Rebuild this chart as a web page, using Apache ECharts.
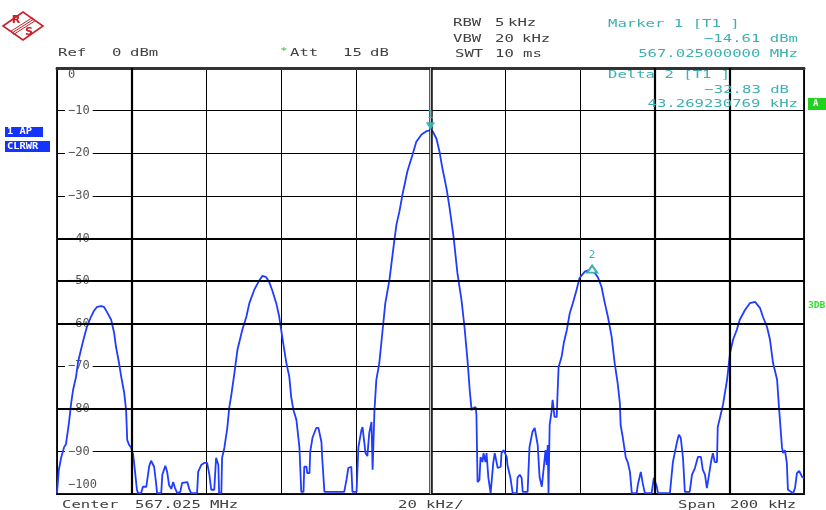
<!DOCTYPE html>
<html><head><meta charset="utf-8">
<script src="https://cdn.jsdelivr.net/npm/echarts@6/dist/echarts.min.js"></script>
<style>html,body{margin:0;padding:0;background:#fff}#c{width:826px;height:510px}</style>
</head><body><div id="c"></div>
<script>
// Trace: [frequency offset from center (kHz), level (dBm)]
const trace = [
[-100.0,-99.8],[-99.5,-94.3],[-98.9,-91.5],[-98.1,-89.0],[-97.6,-88.3],[-96.8,-83.3],[-96.2,-78.6],[-95.7,-75.6],[-94.9,-72.5],[-94.4,-69.2],
[-93.6,-66.2],[-92.8,-63.4],[-92.0,-60.8],[-90.9,-58.4],[-90.1,-57.0],[-89.3,-56.1],[-88.2,-55.9],[-87.4,-56.1],[-86.6,-57.3],[-85.5,-59.1],
[-84.7,-62.2],[-84.2,-65.5],[-83.4,-69.2],[-82.8,-72.5],[-82.0,-76.3],[-81.5,-80.3],[-81.2,-87.3],[-80.7,-88.5],[-80.2,-89.0],[-79.6,-90.8],
[-79.1,-94.8],[-78.6,-99.0],[-78.3,-99.8],[-77.5,-99.8],[-77.0,-98.3],[-76.1,-98.3],[-75.3,-93.4],[-74.8,-92.2],[-74.0,-93.6],[-73.5,-97.2],
[-73.2,-99.8],[-72.1,-99.8],[-71.8,-95.5],[-71.0,-93.4],[-70.5,-94.8],[-70.0,-97.9],[-69.4,-98.8],[-68.9,-97.2],[-68.4,-98.6],[-67.8,-99.8],
[-67.0,-99.5],[-66.5,-97.4],[-65.1,-97.2],[-64.6,-98.8],[-64.1,-99.8],[-62.5,-99.8],[-62.2,-94.8],[-61.4,-93.2],[-60.6,-92.7],[-59.8,-92.7],
[-59.2,-95.5],[-58.7,-99.0],[-57.9,-99.0],[-57.4,-91.5],[-56.8,-93.2],[-56.6,-99.8],[-56.0,-99.8],[-55.8,-91.5],[-55.2,-89.2],[-54.4,-84.5],
[-53.9,-79.8],[-53.4,-77.2],[-52.5,-71.6],[-51.7,-66.2],[-50.4,-61.5],[-49.3,-58.4],[-48.5,-55.2],[-47.2,-52.1],[-45.8,-49.8],[-45.0,-48.8],
[-44.0,-49.1],[-43.2,-50.2],[-42.4,-52.1],[-41.3,-55.2],[-40.5,-58.4],[-39.7,-63.1],[-38.6,-69.2],[-37.8,-72.5],[-37.3,-77.2],[-36.7,-80.3],
[-35.9,-82.6],[-35.1,-89.0],[-34.6,-99.5],[-34.0,-99.5],[-33.8,-93.6],[-33.2,-93.6],[-33.0,-95.1],[-32.4,-95.1],[-32.2,-90.1],[-31.6,-86.8],
[-30.6,-84.5],[-30.0,-84.5],[-29.2,-87.8],[-29.0,-91.5],[-28.4,-99.5],[-23.1,-99.5],[-22.5,-96.7],[-22.0,-93.9],[-21.2,-93.6],[-20.9,-99.5],
[-19.8,-99.5],[-19.3,-89.0],[-18.5,-85.0],[-18.2,-84.3],[-17.4,-90.4],[-16.9,-91.1],[-16.4,-85.7],[-15.8,-83.1],[-15.5,-94.3],[-15.0,-80.3],
[-14.5,-73.2],[-13.7,-69.2],[-12.9,-62.2],[-12.1,-55.2],[-11.0,-49.8],[-9.7,-40.6],[-9.1,-36.7],[-8.3,-33.6],[-7.5,-29.7],[-6.2,-24.3],
[-4.8,-20.3],[-3.8,-17.3],[-2.4,-15.6],[-1.0,-14.8],[0,-14.61],[0.6,-14.9],[1.6,-16.6],[2.4,-19.6],[3.2,-23.6],[4.3,-28.3],
[5.1,-32.8],[6.2,-39.8],[7.2,-48.1],[8.3,-54.5],[9.1,-60.8],[9.9,-68.5],[10.5,-75.6],[11.0,-80.3],[11.5,-79.8],[12.1,-79.6],
[12.3,-81.4],[12.6,-97.2],[13.1,-96.7],[13.4,-91.3],[13.9,-92.5],[14.2,-90.4],[14.7,-92.5],[15.0,-90.4],[15.5,-96.2],[16.1,-99.8],
[16.6,-99.8],[16.8,-92.7],[17.2,-90.4],[17.7,-90.8],[18.0,-93.9],[18.8,-93.6],[19.0,-90.4],[19.6,-89.7],[20.4,-91.3],[20.6,-93.2],
[21.4,-96.2],[22.0,-99.8],[23.1,-99.8],[23.3,-96.2],[23.9,-95.5],[24.4,-96.2],[24.7,-99.5],[26.0,-99.5],[26.5,-89.0],[27.3,-85.4],
[27.9,-84.5],[28.7,-88.5],[29.2,-96.0],[29.8,-98.3],[30.3,-97.9],[30.8,-89.7],[31.1,-93.2],[31.4,-88.5],[31.6,-99.8],[31.9,-83.8],
[32.4,-80.7],[32.7,-77.9],[33.2,-81.9],[33.8,-81.9],[34.0,-76.7],[34.3,-70.2],[35.1,-67.8],[35.7,-64.5],[36.5,-61.5],[37.3,-57.5],
[38.1,-55.2],[39.1,-52.1],[39.9,-49.3],[41.3,-47.8],[42.6,-47.4],[44.0,-48.1],[44.8,-49.1],[45.8,-51.4],[46.6,-54.9],[47.5,-58.4],
[48.5,-63.1],[49.3,-69.2],[50.1,-73.9],[50.7,-78.6],[50.9,-83.8],[51.5,-86.8],[52.3,-91.5],[52.8,-92.5],[53.4,-94.8],[53.9,-99.8],
[55.2,-99.8],[55.5,-97.9],[56.3,-94.8],[56.8,-97.4],[57.4,-99.8],[59.2,-99.8],[59.8,-96.2],[60.6,-98.3],[60.9,-99.8],[64.1,-99.8],
[64.9,-92.5],[66.0,-87.8],[66.5,-86.1],[67.0,-86.8],[67.6,-91.5],[68.1,-99.5],[69.4,-99.5],[70.0,-95.5],[70.8,-93.9],[71.6,-91.3],
[72.4,-91.3],[72.9,-94.3],[73.5,-95.5],[74.0,-98.6],[74.5,-98.6],[75.1,-92.5],[75.6,-90.4],[76.1,-92.5],[76.7,-92.5],[76.9,-84.3],
[77.5,-82.1],[78.3,-79.1],[79.4,-73.2],[80.2,-66.9],[81.0,-63.8],[82.0,-61.5],[82.8,-59.1],[84.2,-56.8],[85.5,-55.2],[86.9,-54.9],
[88.2,-56.3],[89.0,-58.4],[90.1,-60.8],[90.9,-63.8],[91.7,-69.2],[92.8,-73.2],[93.3,-79.6],[94.1,-89.0],[94.4,-90.4],[94.9,-89.7],
[95.4,-92.7],[95.7,-99.0],[97.1,-99.8],[97.6,-98.6],[98.1,-95.1],[98.7,-94.6],[99.5,-96.0],[100.0,-96.2]
];
const markerFreq = [0, 43.27];
const markerLevel = [-14.61, -47.44];
const markerNames = ['1', '2'];
const boldGridY = [-40, -50, -60, -80];
const boldGridX = [-80, 60, 80];

const MONO = '"DejaVu Sans Mono"';
const GREY = '#404040';
const TEAL = '#3fb0b0';
const SX = 1.42;
function T(text, x, y, fill, align, size, weight) {
  return { type: 'text', x: x, y: y, scaleX: SX, z: 20,
    style: { text: text, fill: fill || GREY, font: (weight || 'normal') + ' ' + (size || 11) + 'px ' + MONO,
      textAlign: align || 'left', textVerticalAlign: 'middle', verticalAlign: 'middle' } };
}

const chart = echarts.init(document.getElementById('c'), null, { renderer: 'canvas' });
chart.setOption({
  animation: false,
  backgroundColor: '#fff',
  grid: { left: 57, right: 22, top: 68, bottom: 16, show: true, borderColor: '#1a1a1a', borderWidth: 2, backgroundColor: 'transparent' },
  xAxis: {
    type: 'value', min: -100, max: 100, interval: 20,
    axisLabel: { show: false }, axisTick: { show: false },
    axisLine: { show: true, lineStyle: { color: '#333', width: 3 } },
    splitLine: { show: true, lineStyle: { color: '#000', width: 1 } }
  },
  yAxis: [{
    type: 'value', min: -100, max: 0, interval: 10,
    axisLabel: { show: false }, axisTick: { show: false },
    axisLine: { show: true, lineStyle: { color: '#111', width: 2 } },
    splitLine: { show: true, lineStyle: { color: '#000', width: 1 } }
  }, {
    type: 'value', min: -100, max: 0, interval: 10, position: 'left', z: 1.5,
    axisLine: { show: false }, axisTick: { show: false }, splitLine: { show: false },
    axisLabel: {
      inside: true, margin: 8, color: '#555', fontFamily: MONO, fontSize: 12,
      formatter: function (v) {
        const s = String(v).replace('-', '\u2212');
        if (v === 0) return '{t|' + s + '}';
        if (v === -100) return '{b|' + s + '}';
        return '{n|' + s + '}';
      },
      rich: {
        n: { backgroundColor: '#fff', padding: [1, 3, 1, 3], color: '#555', fontFamily: MONO, fontSize: 12 },
        t: { padding: [14, 3, 0, 3], color: '#555', fontFamily: MONO, fontSize: 12 },
        b: { padding: [0, 3, 18, 3], color: '#555', fontFamily: MONO, fontSize: 12 }
      }
    }
  }],
  series: [{
    type: 'line', data: [], z: 1, silent: true,
    markLine: {
      silent: true, symbol: 'none', label: { show: false }, animation: false,
      lineStyle: { color: '#000', width: 2.2, type: 'solid' },
      data: boldGridY.map(v => ({ yAxis: v })).concat(boldGridX.map(v => ({ xAxis: v })))
    }
  }, {
    type: 'line', data: [], z: 1.1, silent: true,
    markLine: {
      silent: true, symbol: 'none', label: { show: false }, animation: false,
      lineStyle: { color: '#111', width: 3.5, type: 'solid' },
      data: [{ xAxis: 0 }]
    }
  }, {
    type: 'line', data: [], z: 1.2, silent: true,
    markLine: {
      silent: true, symbol: 'none', label: { show: false }, animation: false,
      lineStyle: { color: '#c8c8c8', width: 1.2, type: 'solid' },
      data: [{ xAxis: 0 }]
    }
  }, {
    type: 'line', data: trace, z: 3, showSymbol: false, symbol: 'none',
    lineStyle: { color: '#1f3cff', width: 1.8 },
    markPoint: {
      animation: false,
      data: markerFreq.map((f, i) => ({
        coord: [f, markerLevel[i]],
        symbol: i === 0 ? 'triangle' : 'emptyTriangle',
        symbolRotate: i === 0 ? 180 : 0,
        symbolSize: i === 0 ? [9, 8] : [10, 7],
        symbolOffset: i === 0 ? [0, -4] : [0, -1],
        itemStyle: { color: TEAL, borderColor: TEAL, borderWidth: i === 0 ? 0 : 1.5 },
        label: { show: true, position: 'top', distance: i === 0 ? 2 : 4, formatter: markerNames[i],
          color: TEAL, fontFamily: MONO, fontSize: 11 }
      }))
    }
  }],
  graphic: [
    // R&S logo
    { type: 'polygon', z: 20, shape: { points: [[3, 26], [23, 12], [43, 26], [23, 40]] },
      style: { fill: '#fff', stroke: '#c8202a', lineWidth: 1.6 } },
    { type: 'line', z: 20, shape: { x1: 12, y1: 33, x2: 34, y2: 19 }, style: { stroke: '#c8202a', lineWidth: 1 } },
    { type: 'line', z: 20, shape: { x1: 13.5, y1: 34.5, x2: 35.5, y2: 20.5 }, style: { stroke: '#c8202a', lineWidth: 1 } },
    { type: 'line', z: 20, shape: { x1: 10.5, y1: 31.5, x2: 32.5, y2: 17.5 }, style: { stroke: '#c8202a', lineWidth: 1 } },
    { type: 'text', z: 21, x: 16, y: 20, style: { text: 'R', fill: '#c8202a', font: 'bold 11px "DejaVu Sans"', textAlign: 'center', textVerticalAlign: 'middle', verticalAlign: 'middle' } },
    { type: 'text', z: 21, x: 29, y: 32, style: { text: 'S', fill: '#c8202a', font: 'bold 11px "DejaVu Sans"', textAlign: 'center', textVerticalAlign: 'middle', verticalAlign: 'middle' } },

    T('Ref', 58, 53), T('0', 112, 53), T('dBm', 130, 53),
    T('*', 280, 52, '#22c022', 'left', 9),
    T('Att', 290, 53), T('15', 343, 53), T('dB', 370, 53),
    T('RBW', 453, 23), T('5', 495, 23), T('kHz', 508, 23),
    T('VBW', 453, 39), T('20', 495, 39), T('kHz', 522, 39),
    T('SWT', 455, 54), T('10', 495, 54), T('ms', 523, 54),
    T('Marker 1 [T1 ]', 608, 24, TEAL),
    T('\u221214.61 dBm', 798, 39, TEAL, 'right'),
    T('567.025000000 MHz', 798, 54, TEAL, 'right'),
    T('Delta 2 [T1 ]', 608, 75, TEAL),
    T('\u221232.83 dB', 789, 90, TEAL, 'right'),
    T('43.269230769 kHz', 798, 104, TEAL, 'right'),
    T('Center', 62, 505), T('567.025', 135, 505), T('MHz', 210, 505),
    T('20', 398, 505), T('kHz/', 426, 505),
    T('Span', 678, 505), T('200', 730, 505), T('kHz', 768, 505),

    { type: 'rect', z: 20, shape: { x: 808, y: 98, width: 18, height: 12 }, style: { fill: '#1ed21e' } },
    { type: 'text', z: 21, x: 813, y: 104, style: { text: 'A', fill: '#fff', font: 'bold 9px ' + MONO, textAlign: 'left', textVerticalAlign: 'middle', verticalAlign: 'middle' } },
    { type: 'rect', z: 20, shape: { x: 5, y: 127, width: 38, height: 10 }, style: { fill: '#1433ff' } },
    { type: 'text', z: 21, x: 7, y: 132, scaleX: 1.3, style: { text: '1 AP', fill: '#fff', font: 'bold 8px ' + MONO, textAlign: 'left', textVerticalAlign: 'middle', verticalAlign: 'middle' } },
    { type: 'rect', z: 20, shape: { x: 5, y: 141, width: 45, height: 11 }, style: { fill: '#1433ff' } },
    { type: 'text', z: 21, x: 7, y: 146.5, scaleX: 1.3, style: { text: 'CLRWR', fill: '#fff', font: 'bold 8px ' + MONO, textAlign: 'left', textVerticalAlign: 'middle', verticalAlign: 'middle' } },
    { type: 'text', z: 21, x: 808, y: 306, scaleX: 1.2, style: { text: '3DB', fill: '#2ee02e', font: 'bold 8px ' + MONO, textAlign: 'left', textVerticalAlign: 'middle', verticalAlign: 'middle' } }
  ]
});
</script>
</body></html>
